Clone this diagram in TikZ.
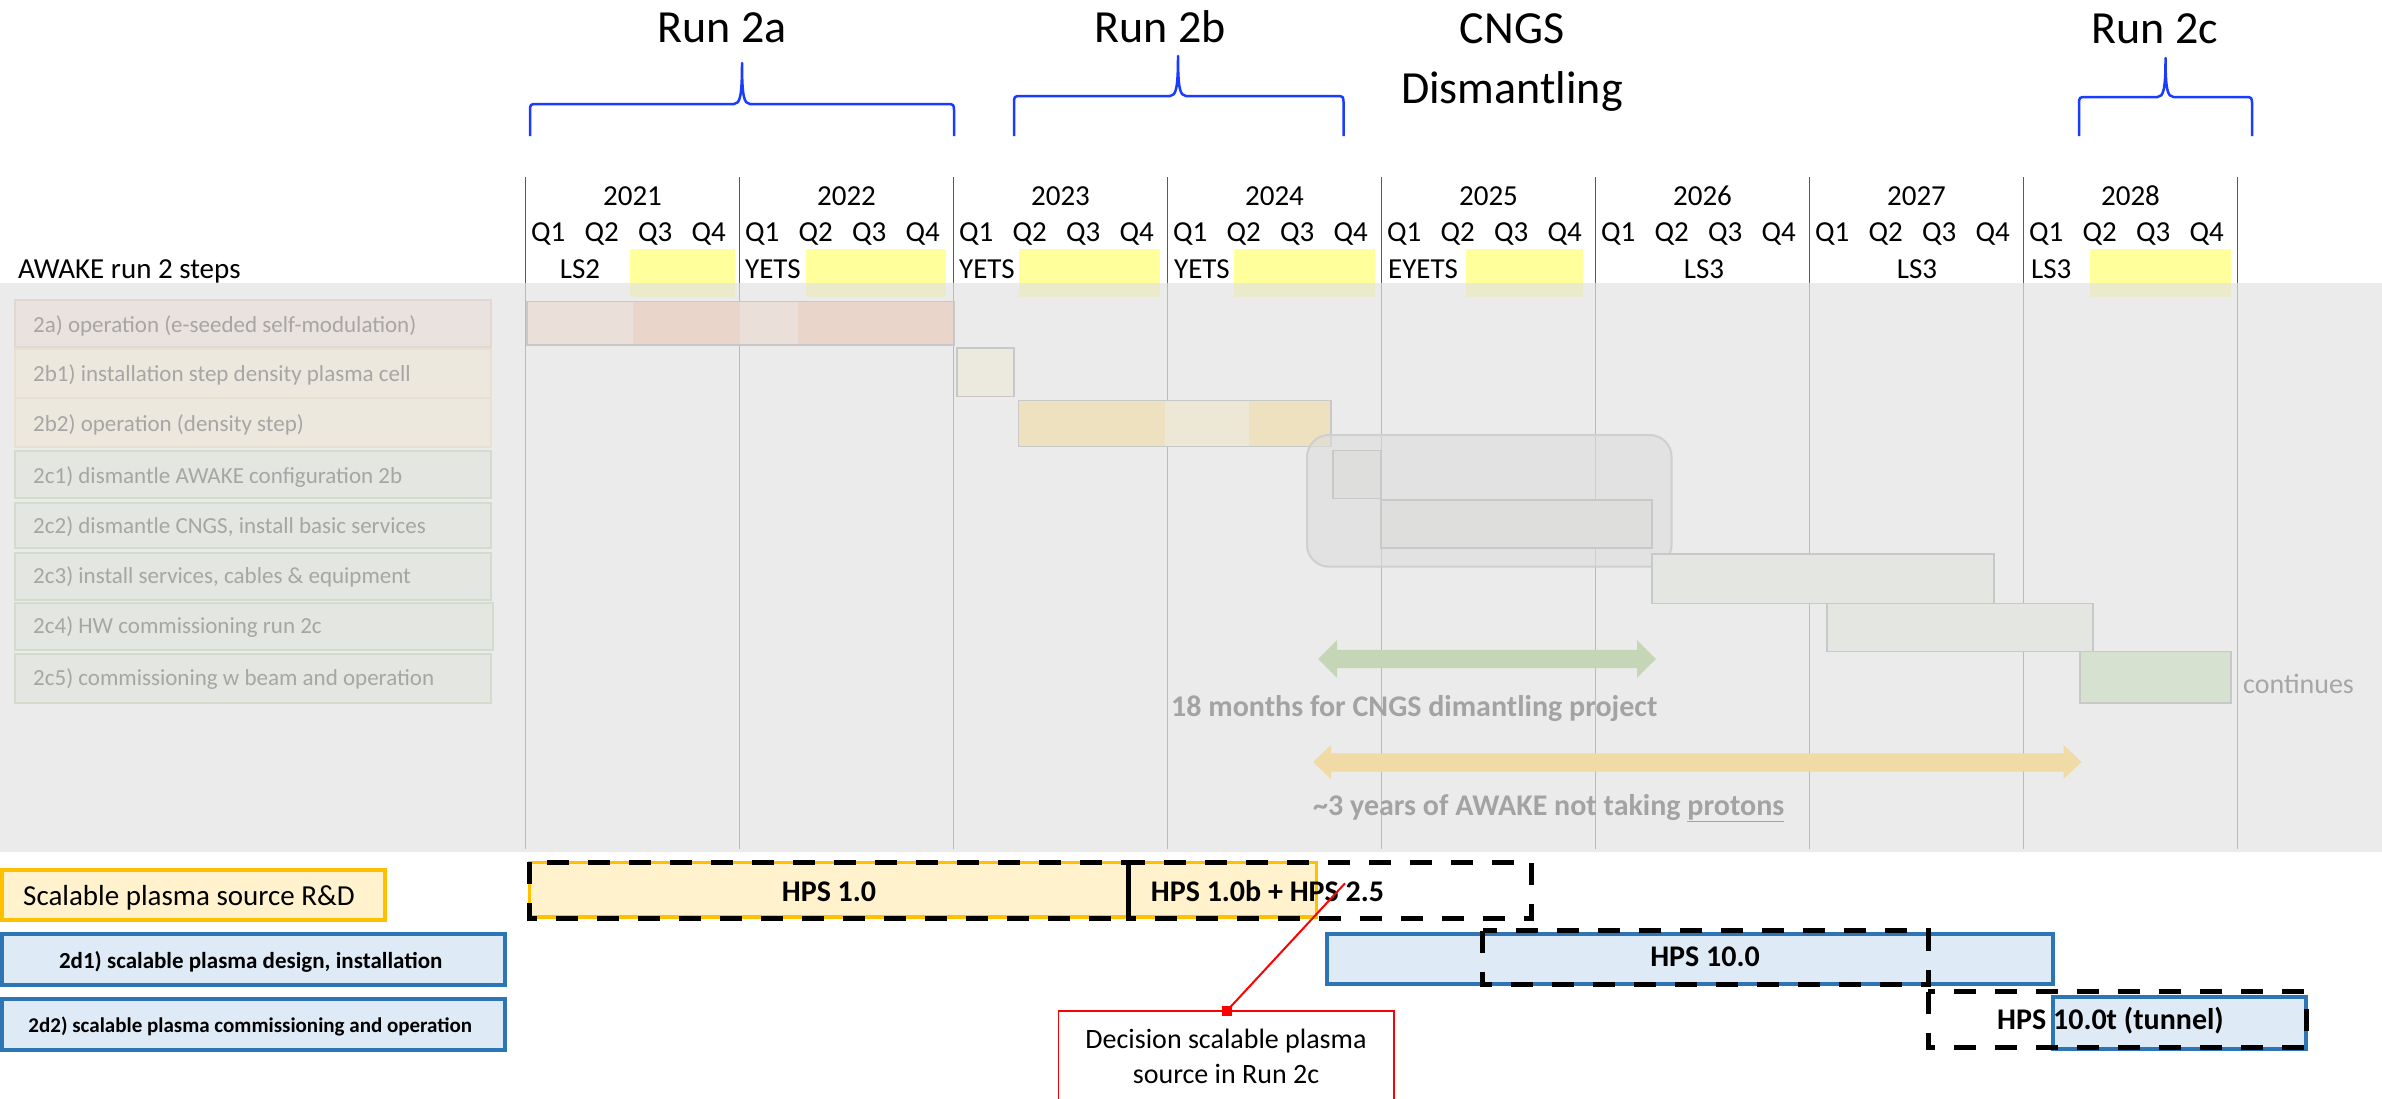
\documentclass[tikz,border=0pt]{standalone}
\usepackage{fontspec}
\setmainfont{Carlito}
\usetikzlibrary{calc}
\definecolor{bggray}{HTML}{EBEBEB}
\definecolor{linedark}{HTML}{5A5A5A}
\definecolor{linelight}{HTML}{BABABA}
\definecolor{hiyellow}{HTML}{FFFF9C}
\definecolor{fadeyellow}{HTML}{EBEBCB}
\definecolor{lbltext}{HTML}{A6A6A6}
\definecolor{lblA}{HTML}{EAE2DF}
\definecolor{lblAd}{HTML}{E2D7D3}
\definecolor{lblB}{HTML}{ECE8DD}
\definecolor{lblBd}{HTML}{E6E1D3}
\definecolor{lblC}{HTML}{E3E6E1}
\definecolor{lblCd}{HTML}{D3DBCD}
\definecolor{barbd}{HTML}{C8C8C8}
\definecolor{barAl}{HTML}{EBDFDA}
\definecolor{barAd}{HTML}{E9D5C9}
\definecolor{barBa}{HTML}{ECE9DF}
\definecolor{barBt}{HTML}{EDE1BF}
\definecolor{barBl}{HTML}{EDE7D6}
\definecolor{barCg}{HTML}{DEDEDC}
\definecolor{roundg}{HTML}{DCDCDC}
\definecolor{roundgd}{HTML}{CFCFCF}
\definecolor{barCl}{HTML}{E4E6E2}
\definecolor{barCgr}{HTML}{D6E1CF}
\definecolor{arrgreen}{HTML}{C5D6B6}
\definecolor{arrorange}{HTML}{F0DAA6}
\definecolor{fadetext}{HTML}{A3A3A3}
\definecolor{rdyellow}{HTML}{FFF2CC}
\definecolor{rdorange}{HTML}{FFC000}
\definecolor{rdblue}{HTML}{DEEBF7}
\definecolor{rdbluebd}{HTML}{2E75B6}
\definecolor{bracecol}{HTML}{1A3CFF}
\tikzset{
  hdr/.style={font=\fontsize{29}{35}\selectfont, inner sep=0pt, anchor=base},
  hdrw/.style={hdr, anchor=base west},
  titletxt/.style={font=\fontsize{46}{56}\selectfont, inner sep=0pt, anchor=base},
  rowlbl/.style={font=\fontsize{23}{28}\selectfont, text=lbltext, inner sep=0pt, anchor=base west},
  lblbox/.style={line width=1.2pt},
  bar/.style={draw=barbd, line width=1.5pt},
  fadebold/.style={font=\bfseries\fontsize{30}{36}\selectfont, text=fadetext, inner sep=0pt, anchor=base west},
  bracepath/.style={draw=bracecol, line width=2.5pt, line join=round},
  dashbox/.style={draw=black, line width=5pt, dash pattern=on 22pt off 19pt},
  hps/.style={font=\bfseries\fontsize{30}{36}\selectfont, inner sep=0pt, anchor=base},
  boxtxt/.style={inner sep=0pt, anchor=base},
}
\begin{document}
\begin{tikzpicture}[x=1pt,y=-1pt]
\useasboundingbox (0,0) rectangle (2382,1098);
\fill[white] (0,0) rectangle (2382,1098);

% ---------- titles and braces ----------
\node[titletxt] (t2a) at (722,42) {Run 2a};
\node[titletxt] (t2b) at (1160,42) {Run 2b};
\node[titletxt] (tcngs) at (1512,43) {CNGS};
\node[titletxt] (tdism) at (1512,103) {Dismantling};
\node[titletxt] (t2c) at (2155,43) {Run 2c};

\draw[bracepath] (530,136) -- (530,112) .. controls (530,104) .. (538,104) -- (734,104)
  .. controls (740,104) and (742,96) .. (742,63) .. controls (742,96) and (744,104) .. (750,104)
  -- (946,104) .. controls (954,104) .. (954,112) -- (954,136);
\draw[bracepath] (1014,136) -- (1014,104) .. controls (1014,96) .. (1022,96) -- (1170,96)
  .. controls (1176,96) and (1178,88) .. (1178,56) .. controls (1178,88) and (1180,96) .. (1186,96)
  -- (1335.5,96) .. controls (1343.5,96) .. (1343.5,104) -- (1343.5,136);
\draw[bracepath] (2079,136) -- (2079,105) .. controls (2079,97) .. (2087,97) -- (2157.5,97)
  .. controls (2163.5,97) and (2165.5,89) .. (2165.5,58) .. controls (2165.5,89) and (2167.5,97) .. (2173.5,97)
  -- (2244,97) .. controls (2252,97) .. (2252,105) -- (2252,136);

% ---------- gray background ----------
\fill[bggray] (0,282.7) rectangle (2382,852);

% ---------- yellow highlights ----------
\foreach \a/\b in {630/735, 806/946, 1018.5/1160, 1234/1374.5, 1466/1583, 2089.6/2231}{
  \fill[hiyellow] (\a,249) rectangle (\b,282.7);
  \fill[fadeyellow] (\a,282.7) rectangle (\b,297);
}

% ---------- year lines ----------
\foreach \k in {0,...,8}{
  \draw[linedark, line width=1.6pt] ({525.5+214*\k},177) -- ({525.5+214*\k},282.7);
  \draw[linelight, line width=1.6pt] ({525.5+214*\k},282.7) -- ({525.5+214*\k},849);
}

% ---------- header ----------
\foreach \k/\yr in {0/2021,1/2022,2/2023,3/2024,4/2025,5/2026,6/2027,7/2028}{
  \node[hdr] (yr\yr) at ({525.5+214*\k+107},205) {\yr};
  \foreach \q in {1,...,4}{
    \node[hdr] (q\yr\q) at ({525.5+214*\k+53.5*(\q-1)+22.75},241.7) {Q\q};
  }
}
\node[hdrw] (awake) at (18,278) {AWAKE run 2 steps};
\node[hdr] (ls2) at (580,278) {LS2};
\node[hdrw] (yetsA) at (745,278) {YETS};
\node[hdrw] (yetsB) at (959,278) {YETS};
\node[hdrw] (yetsC) at (1174,278) {YETS};
\node[hdrw] (eyets) at (1388,278) {EYETS};
\node[hdr] (lsA) at (1704,278) {LS3};
\node[hdr] (lsB) at (1917,278) {LS3};
\node[hdrw] (lsC) at (2031,278) {LS3};

% ---------- row label boxes ----------
\filldraw[fill=lblA, draw=lblAd, lblbox] (15,300) rectangle (491,347);
\filldraw[fill=lblB, draw=lblBd, lblbox] (15,349) rectangle (491,398);
\filldraw[fill=lblB, draw=lblBd, lblbox] (15,398) rectangle (491,447);
\filldraw[fill=lblC, draw=lblCd, lblbox] (15,451) rectangle (491,498);
\filldraw[fill=lblC, draw=lblCd, lblbox] (15,503) rectangle (491,548);
\filldraw[fill=lblC, draw=lblCd, lblbox] (15,553) rectangle (491,600);
\filldraw[fill=lblC, draw=lblCd, lblbox] (15,603) rectangle (493,650);
\filldraw[fill=lblC, draw=lblCd, lblbox] (15,654) rectangle (491,703);
\node[rowlbl] (r2a)  at (33,332.5) {2a) operation (e-seeded self-modulation)};
\node[rowlbl] (r2b1) at (33,381.5) {2b1) installation step density plasma cell};
\node[rowlbl] (r2b2) at (33,431.5) {2b2) operation (density step)};
\node[rowlbl] (r2c1) at (33,483) {2c1) dismantle AWAKE configuration 2b};
\node[rowlbl] (r2c2) at (33,533) {2c2) dismantle CNGS, install basic services};
\node[rowlbl] (r2c3) at (33,583.5) {2c3) install services, cables \& equipment};
\node[rowlbl] (r2c4) at (33,633.5) {2c4) HW commissioning run 2c};
\node[rowlbl] (r2c5) at (33,685) {2c5) commissioning w beam and operation};

% ---------- bars ----------
\fill[barAl] (527,301.7) rectangle (632.5,345);
\fill[barAd] (632.5,301.7) rectangle (740,345);
\fill[barAl] (740,301.7) rectangle (797.5,345);
\fill[barAd] (797.5,301.7) rectangle (954,345);
\draw[bar] (527,301.7) rectangle (954,345);

\filldraw[bar, fill=barBa] (957,348) rectangle (1014,396.7);

\fill[barBt] (1018.5,400.7) rectangle (1164.6,446.7);
\fill[barBl] (1164.6,400.7) rectangle (1248.5,446.7);
\fill[barBt] (1248.5,400.7) rectangle (1331,446.7);
\draw[bar] (1018.5,400.7) rectangle (1331,446.7);

\filldraw[draw=roundgd, fill=roundg, fill opacity=0.6, line width=2pt, rounded corners=22pt] (1307,435) rectangle (1671.6,566.7);

\filldraw[bar, fill=barCg] (1333,450.7) rectangle (1381,498.3);
\filldraw[bar, fill=barCg] (1381,500) rectangle (1652,548);
\filldraw[bar, fill=barCl] (1652,554) rectangle (1994,603.3);
\filldraw[bar, fill=barCl] (1827,603.3) rectangle (2093,651.7);
\filldraw[bar, fill=barCgr] (2080,651.7) rectangle (2231,703);
\node[font=\fontsize{28}{34}\selectfont, text=lbltext, inner sep=0pt, anchor=base west] (cont) at (2243,693) {continues};

% ---------- faded arrows ----------
\fill[arrgreen] (1318,659) -- (1337,640.2) -- (1337,649.8) -- (1637,649.8) -- (1637,640.2) -- (1656,659)
  -- (1637,677.8) -- (1637,668.2) -- (1337,668.2) -- (1337,677.8) -- cycle;
\node[fadebold] (m18) at (1171,716.5) {18 months for CNGS dimantling project};
\fill[arrorange] (1313,762) -- (1331,745) -- (1331,753.3) -- (2063.5,753.3) -- (2063.5,745) -- (2081.5,762)
  -- (2063.5,779) -- (2063.5,771.5) -- (1331,771.5) -- (1331,779) -- cycle;
\node[fadebold] (y3) at (1313,815) {\textasciitilde 3 years of AWAKE not taking \underline{protons}};

% ---------- lower section ----------
\filldraw[fill=rdyellow, draw=rdorange, line width=4pt] (2,869.7) rectangle (384.5,919.7);
\node[font=\fontsize{29}{35}\selectfont, inner sep=0pt, anchor=base west] (srd) at (23,905) {Scalable plasma source R\&D};
\filldraw[fill=rdblue, draw=rdbluebd, line width=4pt] (2,934) rectangle (505,984.7);
\node[boxtxt, font=\bfseries\fontsize{23}{28}\selectfont] (d1) at (250.7,968.3) {2d1) scalable plasma design, installation};
\filldraw[fill=rdblue, draw=rdbluebd, line width=4pt] (2,999) rectangle (505,1049.7);
\node[boxtxt, font=\bfseries\fontsize{21}{26}\selectfont] (d2) at (250.3,1032.3) {2d2) scalable plasma commissioning and operation};

% HPS 1.0 and 1.0b
\filldraw[fill=rdyellow, draw=rdorange, line width=3.5pt] (529.6,862.5) rectangle (1316.7,917);
\draw[dashbox] (529.6,862) rectangle (1128.6,918);
\draw[dashbox] (1128.6,862) rectangle (1531.7,918);
\draw[black, line width=5pt] (1128.6,862) -- (1128.6,918);
\node[hps] (h1) at (829,901.7) {HPS 1.0};
\node[hps, anchor=base west] (h1b) at (1150.7,901) {HPS 1.0b + HPS 2.5};

% HPS 10.0
\filldraw[fill=rdblue, draw=rdbluebd, line width=4pt] (1327,933.5) rectangle (2052.5,984);
\draw[dashbox] (1482.6,930.5) rectangle (1928,984.5);
\node[hps] (h10) at (1705,966.7) {HPS 10.0};

% HPS 10.0t
\filldraw[fill=rdblue, draw=rdbluebd, line width=4pt] (2052.5,997) rectangle (2306,1049);
\draw[dashbox] (1928,991.7) rectangle (2306,1047.7);
\node[hps, anchor=base west] (h10t) at (1997,1029.3) {HPS 10.0t (tunnel)};

% decision box
\draw[red, line width=1.5pt] (1058.5,1102) |- (1394,1011) -- (1394,1102);
\node[boxtxt, font=\fontsize{28}{34}\selectfont] (dec1) at (1226,1048) {Decision scalable plasma};
\node[boxtxt, font=\fontsize{28}{34}\selectfont] (dec2) at (1226,1083) {source in Run 2c};
\coordinate (decTop) at (1226.7,1011);
\coordinate (hpsPt) at (1345,883.3);
\draw[red, line width=2pt] (decTop) -- (hpsPt);
\fill[red] ($(decTop)+(-5,-5)$) rectangle ($(decTop)+(5,5)$);
\end{tikzpicture}
\end{document}
